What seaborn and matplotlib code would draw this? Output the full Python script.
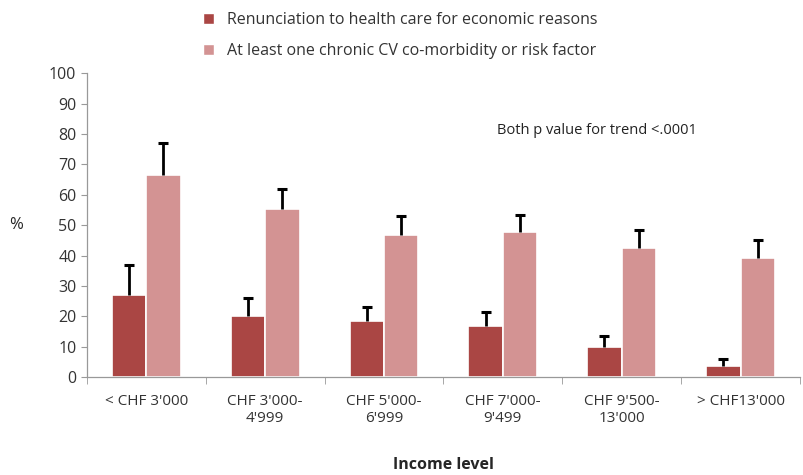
import numpy as np
import pandas as pd
import seaborn as sns
import matplotlib.pyplot as plt
from matplotlib.patches import Patch

# data
income = ["< CHF 3'000", "CHF 3'000-\n4'999", "CHF 5'000-\n6'999",
          "CHF 7'000-\n9'499", "CHF 9'500-\n13'000", "> CHF13'000"]
renunciation = [27.0, 20.2, 18.4, 16.9, 10.0, 3.6]
renunciation_err = [10.0, 5.8, 4.8, 4.6, 3.6, 2.3]
chronic = [66.4, 55.3, 46.7, 47.7, 42.4, 39.1]
chronic_err = [10.6, 6.5, 6.3, 5.6, 6.0, 5.9]

series = ["Renunciation to health care for economic reasons",
          "At least one chronic CV co-morbidity or risk factor"]
colors = ["#AA4644", "#D39393"]

df = pd.DataFrame({
    "income": income * 2,
    "value": renunciation + chronic,
    "err": renunciation_err + chronic_err,
    "series": [series[0]] * 6 + [series[1]] * 6,
})

sns.set_style("white")
plt.rcParams["font.family"] = ["Open Sans", "DejaVu Sans"]

fig = plt.figure(figsize=(8.04, 4.75), dpi=100)
ax = fig.add_axes([0.108, 0.206, 0.887, 0.640])

sns.barplot(data=df, x="income", y="value", hue="series", palette=colors,
            saturation=1, width=0.58, edgecolor="white", linewidth=1.2,
            legend=False, ax=ax)

# upward-only error bars on each bar (hide the lower cap)
for cont, errs in zip(ax.containers, [renunciation_err, chronic_err]):
    for bar, e in zip(cont, errs):
        xc = bar.get_x() + bar.get_width() / 2
        _, caps, _ = ax.errorbar(xc, bar.get_height(), yerr=[[0], [e]],
                                 fmt="none", ecolor="black", elinewidth=2,
                                 capsize=3.5, capthick=2.2)
        caps[0].set_visible(False)

ax.set_ylim(0, 100)
ax.set_yticks(range(0, 101, 10))
ax.set_xlim(-0.5, 5.5)
ax.tick_params(axis="y", labelsize=11.5, length=4, direction="out",
               left=True, width=0.8, colors="#999999", labelcolor="#333333")
ax.tick_params(axis="x", labelsize=11, labelcolor="#333333", length=0, pad=12)
ax.set_xticks(np.arange(6))
ax.set_xticks(np.arange(-0.5, 6.0, 1), minor=True)
ax.tick_params(axis="x", which="minor", length=5, color="#999999", bottom=True)

for s in ["top", "right"]:
    ax.spines[s].set_visible(False)
for s in ["left", "bottom"]:
    ax.spines[s].set_color("#999999")
    ax.spines[s].set_linewidth(0.9)

ax.set_xlabel("Income level", fontsize=11.5, fontweight="bold", labelpad=22)
ax.set_ylabel("%", fontsize=12, rotation=0, labelpad=24, va="center")

ax.text(0.575, 0.8, "Both p value for trend <.0001", transform=ax.transAxes,
        fontsize=10.5, color="#222222")

handles = [Patch(facecolor=c) for c in colors]
fig.legend(handles, series, loc="upper left", bbox_to_anchor=(0.235, 1.005),
           frameon=False, fontsize=11.5, handlelength=0.7, handleheight=0.7,
           labelspacing=0.95, handletextpad=0.8, labelcolor="#333333")

fig.savefig("out.png", dpi=100)
